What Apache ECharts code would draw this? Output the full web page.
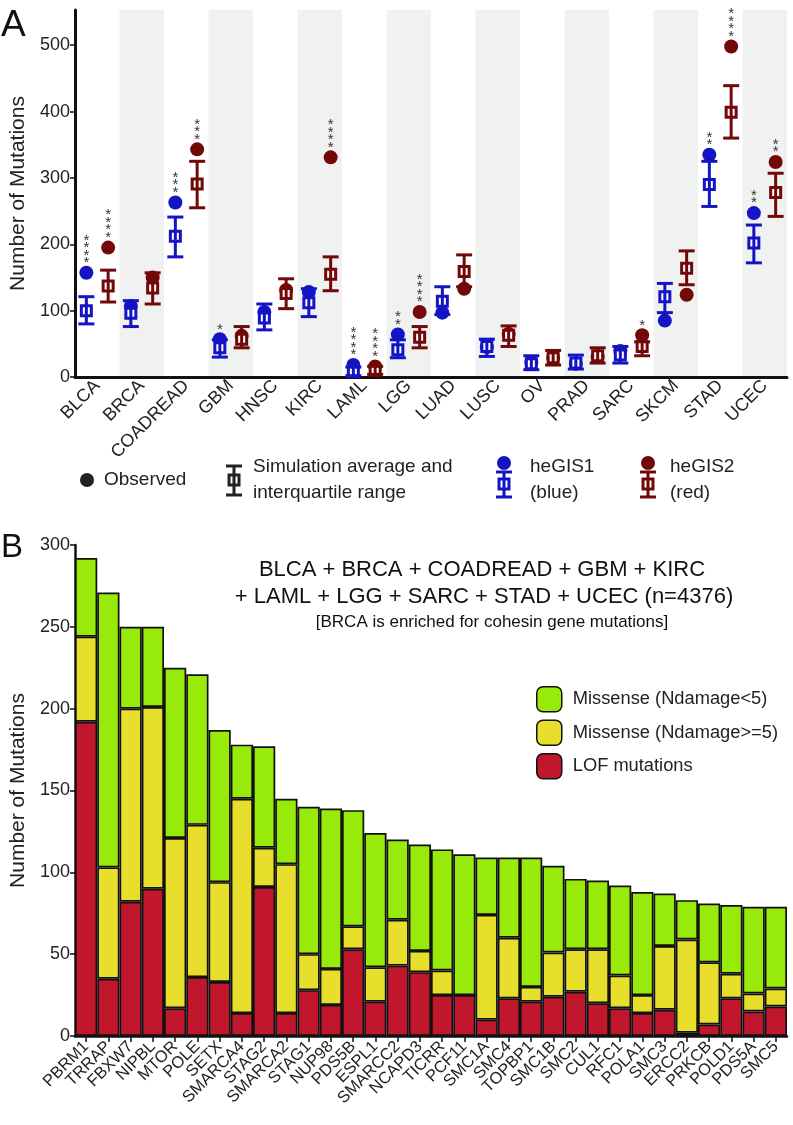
<!DOCTYPE html>
<html>
<head>
<meta charset="utf-8">
<script src="https://cdn.jsdelivr.net/npm/echarts@6/dist/echarts.min.js"></script>
<style>
html,body{margin:0;padding:0;background:#fff;}
#chart{width:793px;height:1125px;}
</style>
</head>
<body>
<div id="chart"></div>
<script>
// ---------- Panel A data ----------
const cancerTypes = ['BLCA','BRCA','COADREAD','GBM','HNSC','KIRC','LAML','LGG','LUAD','LUSC','OV','PRAD','SARC','SKCM','STAD','UCEC'];
const heGIS1Observed = [157,107,263,57,98,128,18,64,97,45,22,20,39,85,335,247];
const heGIS1Mean     = [100,96,212,44,89,112,8,41,114,46,20,21,33,121,290,202];
const heGIS1Q1       = [80,76,181,30,71,91,2,29,94,31,11,12,21,97,257,172];
const heGIS1Q3       = [121,115,241,56,110,133,15,56,136,57,32,33,46,141,325,229];
const heGIS1Stars    = ['****','','***','*','','','****','**','','','','','','','**','**'];
const heGIS2Observed = [195,150,343,62,131,331,16,98,133,65,29,30,63,124,498,324];
const heGIS2Mean     = [137,134,291,57,126,155,10,60,159,63,29,32,46,164,399,278];
const heGIS2Q1       = [113,110,255,44,103,130,4,44,136,46,18,21,32,139,360,242];
const heGIS2Q3       = [161,157,325,76,148,181,16,76,184,77,40,44,53,190,439,307];
const heGIS2Stars    = ['****','','***','','','****','****','****','','','','','*','','****','**'];
const yTicksA = [0,100,200,300,400,500];

// ---------- Panel B data ----------
const genes = ['PBRM1','TRRAP','FBXW7','NIPBL','MTOR','POLE','SETX','SMARCA4','STAG2','SMARCA2','STAG1','NUP98','PDS5B','ESPL1','SMARCC2','NCAPD3','TICRR','PCF11','SMC1A','SMC4','TOPBP1','SMC1B','SMC2','CUL1','RFC1','POLA1','SMC3','ERCC2','PRKCB','POLD1','PDS5A','SMC5'];
const lofMutations   = [192,35,82,90,17,36,33,14,91,14,28,19,53,21,43,39,25,25,10,23,21,24,27,20,17,14,16,2,7,23,15,18];
const missenseHigh   = [52,68,118,111,104,93,61,131,24,91,22,22,14,21,28,13,15,0,64,37,9,27,26,33,20,11,39,57,38,15,11,11];
const missenseLow    = [48,168,50,49,104,92,93,33,62,40,90,98,71,82,49,65,74,86,35,49,79,53,43,42,55,63,32,24,36,42,53,50];
const yTicksB = [0,50,100,150,200,250,300];

const BLUE = '#1414c4';
const RED = '#720808';
const FONT = 'Liberation Sans, Arial, Helvetica, sans-serif';

function makeSeriesData(obs, mean, q1, q3) {
  return cancerTypes.map((c, i) => [i, obs[i], mean[i], q1[i], q3[i]]);
}

function makeRender(color, side, stars) {
  return function (params, api) {
    const i = api.value(0);
    const bw = api.size([1, 0])[0];
    const dx = side * bw * 0.245;
    const pObs = api.coord([i, api.value(1)]);
    const pMean = api.coord([i, api.value(2)]);
    const pLo = api.coord([i, api.value(3)]);
    const pHi = api.coord([i, api.value(4)]);
    const x = pObs[0] + dx;
    const st = stars[params.dataIndex];
    const topY = Math.min(pObs[1] - 7, pHi[1] - 1.5);
    const children = [
      {type: 'circle', shape: {cx: x, cy: pObs[1], r: 7}, style: {fill: color}},
      {type: 'rect', shape: {x: x - 5, y: pMean[1] - 5, width: 10, height: 10}, style: {fill: '#fff', stroke: color, lineWidth: 3}},
      {type: 'line', shape: {x1: x, y1: pLo[1], x2: x, y2: pHi[1]}, style: {stroke: color, lineWidth: 3}},
      {type: 'line', shape: {x1: x - 8, y1: pLo[1], x2: x + 8, y2: pLo[1]}, style: {stroke: color, lineWidth: 3}},
      {type: 'line', shape: {x1: x - 8, y1: pHi[1], x2: x + 8, y2: pHi[1]}, style: {stroke: color, lineWidth: 3}}
    ];
    if (st) {
      children.push({
        type: 'text',
        style: {
          text: st.split('').join('\n'),
          x: x, y: topY + 1,
          align: 'center', verticalAlign: 'bottom',
          fontSize: 15, lineHeight: 7.5, fill: '#333', fontFamily: FONT
        }
      });
    }
    return {type: 'group', children: children};
  };
}

// legend icon helper (graphic elements)
function whiskerIcon(x, yTop, yBot, yMean, color, dotY) {
  const els = [];
  if (dotY !== null) els.push({type: 'circle', shape: {cx: x, cy: dotY, r: 7}, style: {fill: color}});
  els.push({type: 'rect', shape: {x: x - 5, y: yMean - 5, width: 10, height: 10}, style: {fill: '#fff', stroke: color, lineWidth: 3}});
  els.push({type: 'line', shape: {x1: x, y1: yTop, x2: x, y2: yBot}, style: {stroke: color, lineWidth: 3}});
  els.push({type: 'line', shape: {x1: x - 8, y1: yTop, x2: x + 8, y2: yTop}, style: {stroke: color, lineWidth: 3}});
  els.push({type: 'line', shape: {x1: x - 8, y1: yBot, x2: x + 8, y2: yBot}, style: {stroke: color, lineWidth: 3}});
  return els;
}

const chart = echarts.init(document.getElementById('chart'), null, {renderer: 'canvas'});

const legendTextStyle = {fontSize: 19, fill: '#222', fontFamily: FONT};
const graphics = [
  {type: 'text', left: 1, top: 7, style: {text: 'A', fontSize: 37, fill: '#111', fontFamily: FONT}},
  {type: 'text', left: 1, top: 531, style: {text: 'B', fontSize: 33, fill: '#111', fontFamily: FONT}},
  // legend A
  {type: 'circle', shape: {cx: 87, cy: 480, r: 7}, style: {fill: '#222'}},
  {type: 'text', x: 104, y: 480, style: Object.assign({text: 'Observed', verticalAlign: 'middle'}, legendTextStyle)},
  ...whiskerIcon(234, 466, 495, 480, '#222', null),
  {type: 'text', x: 253, y: 467, style: Object.assign({text: 'Simulation average and', verticalAlign: 'middle'}, legendTextStyle)},
  {type: 'text', x: 253, y: 493, style: Object.assign({text: 'interquartile range', verticalAlign: 'middle'}, legendTextStyle)},
  ...whiskerIcon(504, 472, 497, 484, BLUE, 463),
  {type: 'text', x: 530, y: 467, style: Object.assign({text: 'heGIS1', verticalAlign: 'middle'}, legendTextStyle)},
  {type: 'text', x: 530, y: 493, style: Object.assign({text: '(blue)', verticalAlign: 'middle'}, legendTextStyle)},
  ...whiskerIcon(648, 472, 497, 484, RED, 463),
  {type: 'text', x: 670, y: 467, style: Object.assign({text: 'heGIS2', verticalAlign: 'middle'}, legendTextStyle)},
  {type: 'text', x: 670, y: 493, style: Object.assign({text: '(red)', verticalAlign: 'middle'}, legendTextStyle)},
  // title B
  {type: 'text', x: 482, y: 570, style: {text: 'BLCA + BRCA + COADREAD + GBM + KIRC', align: 'center', verticalAlign: 'middle', fontSize: 22, fill: '#111', fontFamily: FONT}},
  {type: 'text', x: 484, y: 597, style: {text: '+ LAML + LGG + SARC + STAD + UCEC (n=4376)', align: 'center', verticalAlign: 'middle', fontSize: 22, fill: '#111', fontFamily: FONT}},
  {type: 'text', x: 492, y: 622, style: {text: '[BRCA is enriched for cohesin gene mutations]', align: 'center', verticalAlign: 'middle', fontSize: 17, fill: '#111', fontFamily: FONT}}
];

const yAxisCommon = {
  type: 'value',
  axisLine: {show: true, lineStyle: {color: '#111', width: 3}},
  axisTick: {show: true, length: 5, lineStyle: {color: '#111', width: 1.5}},
  axisLabel: {fontSize: 18, color: '#222', fontFamily: FONT, margin: 5},
  splitLine: {show: false},
  nameLocation: 'middle',
  nameTextStyle: {fontSize: 21, color: '#222', fontFamily: FONT}
};

const option = {
  animation: false,
  backgroundColor: '#fff',
  graphic: graphics,
  legend: {
    show: true,
    data: ['Missense (Ndamage<5)', 'Missense (Ndamage>=5)', 'LOF mutations'],
    orient: 'vertical',
    left: 536, top: 686, padding: 0,
    itemWidth: 25, itemHeight: 25, itemGap: 7,
    textStyle: {fontSize: 18.3, color: '#222', fontFamily: FONT, padding: [0, 0, 0, 6]},
    selectedMode: false,
    itemStyle: {borderColor: '#111', borderWidth: 1.5}
  },
  grid: [
    {left: 67, right: 6, top: 10, height: 367, containLabel: false},
    {left: 69, right: 6, top: 545, height: 491, containLabel: false}
  ],
  xAxis: [
    {
      type: 'category', gridIndex: 0, data: cancerTypes, boundaryGap: true,
      axisLine: {show: true, lineStyle: {color: '#111', width: 3}},
      axisTick: {show: false},
      axisLabel: {rotate: 45, fontSize: 18, color: '#222', fontFamily: FONT, margin: 6, interval: 0},
      splitArea: {show: true, interval: 0, areaStyle: {color: ['#ffffff', '#f0f1f1']}},
      splitLine: {show: false}
    },
    {
      type: 'category', gridIndex: 1, data: genes, boundaryGap: true,
      axisLine: {show: true, lineStyle: {color: '#111', width: 2.5}},
      axisTick: {show: true, alignWithLabel: true, length: 6, lineStyle: {color: '#111', width: 1.5}, interval: 0},
      axisLabel: {rotate: 45, fontSize: 16.5, color: '#222', fontFamily: FONT, margin: 8, interval: 0},
      splitLine: {show: false}
    }
  ],
  yAxis: [
    Object.assign({}, yAxisCommon, {
      gridIndex: 0, min: 0, max: 553, interval: 100,
      name: 'Number of Mutations', nameGap: 46,
      axisLabel: Object.assign({}, yAxisCommon.axisLabel, {showMaxLabel: false, formatter: v => (yTicksA.indexOf(v) >= 0 ? String(v) : '')})
    }),
    Object.assign({}, yAxisCommon, {
      gridIndex: 1, min: 0, max: 300, interval: 50,
      name: 'Number of Mutations', nameGap: 46,
      axisLine: {show: true, lineStyle: {color: '#111', width: 2.5}},
      axisLabel: Object.assign({}, yAxisCommon.axisLabel, {formatter: v => (yTicksB.indexOf(v) >= 0 ? String(v) : '')})
    })
  ],
  series: [
    {
      name: 'heGIS1', type: 'custom', xAxisIndex: 0, yAxisIndex: 0,
      renderItem: makeRender(BLUE, -1, heGIS1Stars),
      data: makeSeriesData(heGIS1Observed, heGIS1Mean, heGIS1Q1, heGIS1Q3),
      encode: {x: 0, y: [1, 2, 3, 4]}, z: 5
    },
    {
      name: 'heGIS2', type: 'custom', xAxisIndex: 0, yAxisIndex: 0,
      renderItem: makeRender(RED, 1, heGIS2Stars),
      data: makeSeriesData(heGIS2Observed, heGIS2Mean, heGIS2Q1, heGIS2Q3),
      encode: {x: 0, y: [1, 2, 3, 4]}, z: 5
    },
    {
      name: 'LOF mutations', type: 'bar', xAxisIndex: 1, yAxisIndex: 1, stack: 'b',
      data: lofMutations, barWidth: '100%', barCategoryGap: '0%',
      itemStyle: {color: '#c0172d', borderColor: '#111', borderWidth: 1.7}
    },
    {
      name: 'Missense (Ndamage>=5)', type: 'bar', xAxisIndex: 1, yAxisIndex: 1, stack: 'b',
      data: missenseHigh, barWidth: '100%', barCategoryGap: '0%',
      itemStyle: {color: '#e8de2c', borderColor: '#111', borderWidth: 1.7}
    },
    {
      name: 'Missense (Ndamage<5)', type: 'bar', xAxisIndex: 1, yAxisIndex: 1, stack: 'b',
      data: missenseLow, barWidth: '100%', barCategoryGap: '0%',
      itemStyle: {color: '#98ea0a', borderColor: '#111', borderWidth: 1.7}
    }
  ]
};

chart.setOption(option);
</script>
</body>
</html>
